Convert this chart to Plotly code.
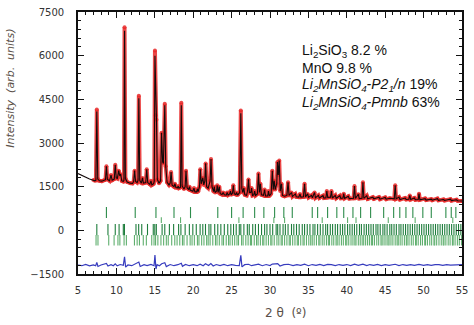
import plotly.graph_objects as go

# ---------------- data ----------------
# observed profile vertices (2theta in degrees, intensity in arb. units)
two_theta = [
    7.0, 7.2, 7.33, 7.45, 7.57, 7.8, 8.1, 8.4,
    8.58, 8.7, 8.82, 9.1, 9.3, 9.45, 9.72, 9.85, 9.98, 10.12, 10.3, 10.42, 10.55, 10.7, 10.9,
    10.98, 11.06, 11.17, 11.4, 11.8, 12.1,
    12.25, 12.37, 12.5, 12.7, 12.82, 12.92, 13.04, 13.25, 13.4, 13.52, 13.82, 13.95, 14.08, 14.35, 14.5, 14.62, 14.85,
    14.93, 15.02, 15.12, 15.22, 15.33, 15.55, 15.75, 15.88, 16.02, 16.12, 16.3, 16.42, 16.6, 16.85, 17.0, 17.12,
    17.25, 17.5, 17.62, 17.75, 17.95, 18.05, 18.15, 18.35,
    18.45, 18.56, 18.8, 18.95, 19.06, 19.2, 19.42, 19.52, 19.62, 19.95, 20.1, 20.22, 20.45, 20.55, 20.65,
    20.82, 20.92, 21.05, 21.25, 21.38, 21.52, 21.62, 21.75, 21.95, 22.2, 22.32, 22.45, 22.65, 22.75, 22.85,
    23.05, 23.12, 23.25, 23.4, 23.52, 23.75, 23.9, 24.05, 24.3, 24.42, 24.55, 24.75, 24.85, 24.95, 25.12,
    25.22, 25.35, 25.55, 25.65, 25.78, 26.05,
    26.2, 26.33, 26.45, 26.6, 26.72, 26.95, 27.1, 27.2, 27.32, 27.5, 27.6, 27.72, 27.9, 28.0, 28.12, 28.35,
    28.5, 28.62, 28.75, 28.88, 29.15, 29.3, 29.42, 29.7, 29.8, 29.92, 30.15, 30.3, 30.42, 30.55, 30.68,
    30.88, 30.97, 31.08, 31.2, 31.33, 31.5, 31.62, 31.9, 32.2, 32.35, 32.48, 32.8, 32.92, 33.3, 33.42,
    33.75, 33.9, 34.02, 34.35,
    34.5, 34.62, 34.9, 35.02, 35.4, 35.52, 35.8, 35.92, 36.3, 36.42, 36.9, 37.02, 37.28, 37.4, 37.52,
    37.88, 38.0, 38.12, 38.5, 38.62, 39.1, 39.22, 39.5, 39.6, 39.72, 40.2, 40.32, 40.88, 41.0, 41.12,
    41.5, 41.62, 41.98, 42.1, 42.22, 42.6, 42.72, 43.4, 43.52, 44.2, 44.32, 45.0, 45.12, 45.6, 46.18,
    46.3, 46.42, 46.8, 46.92, 47.6, 47.72, 48.08, 48.2, 48.32, 48.8, 48.92, 49.3, 49.4, 49.52, 50.2,
    50.32, 51.0, 51.12, 51.8, 51.92, 52.6, 52.72, 53.5, 53.62, 54.3, 54.42, 55.0,
]
intensity_obs = [
    1730, 1700, 1720, 4150, 1760, 1700, 1690, 1720,
    1740, 2200, 1760, 1700, 1900, 1720, 1760, 2250, 1800, 1780, 2050, 1880, 1930, 1700, 1680,
    1720, 6980, 1780, 1660, 1620, 1610,
    1680, 2050, 1680, 1640, 1720, 4620, 1720, 1620, 1800, 1620, 1640, 2100, 1640, 1580, 1700, 1560, 1600,
    1700, 6180, 3950, 3800, 1750, 1620, 1700, 3350, 2350, 2300, 4350, 2200, 1650, 1560, 1620, 2000,
    1550, 1500, 1600, 1470, 1460, 1520, 1450, 1480,
    4380, 1520, 1420, 1500, 2050, 1460, 1400, 1500, 1380, 1340, 1450, 1320, 1320, 1420, 1330,
    1500, 2100, 1600, 1800, 1560, 1700, 2300, 1500, 1450, 1700, 2450, 1500, 1330, 1500, 1300,
    1350, 1550, 1300, 1500, 1260, 1230, 1300, 1220, 1210, 1300, 1210, 1250, 1350, 1220, 1280,
    1550, 1250, 1230, 1300, 1210, 1300,
    4120, 1450, 1300, 1450, 1220, 1200, 1400, 1750, 1300, 1300, 1450, 1200, 1220, 1350, 1200, 1250,
    1950, 1300, 1600, 1220, 1200, 1400, 1180, 1180, 1350, 1180, 1260, 2050, 1400, 1700, 1400,
    1600, 2350, 1900, 2400, 1350, 1600, 1200, 1170, 1200, 1650, 1200, 1300, 1160, 1250, 1150,
    1140, 1250, 1140, 1150,
    1600, 1150, 1250, 1130, 1200, 1120, 1300, 1120, 1200, 1110, 1190, 1110, 1120, 1350, 1130,
    1140, 1350, 1110, 1200, 1100, 1190, 1100, 1110, 1260, 1100, 1170, 1090, 1100, 1520, 1100,
    1240, 1090, 1100, 1650, 1100, 1190, 1080, 1140, 1080, 1140, 1070, 1130, 1070, 1100, 1080,
    1550, 1080, 1140, 1060, 1110, 1060, 1070, 1200, 1060, 1110, 1050, 1060, 1260, 1050, 1090,
    1040, 1070, 1035, 1090, 1030, 1060, 1025, 1070, 1020, 1050, 1015, 1010,
]

# calculated profile: follows the observed one except at the strongest reflections
calc_top_theta = [7.45, 11.06, 12.92, 15.02, 16.3, 18.45, 26.2]
calc_top_value = [4080, 6860, 4540, 6000, 4300, 4300, 4020]
# calculated background below the first measured point
calc_lead_theta = [5.0, 5.5, 6.0, 6.5, 6.8]
calc_lead_value = [1950, 1880, 1810, 1760, 1740]

# difference curve (obs - calc, shifted)
diff_theta = [
    5.0, 5.5, 6.0, 6.5, 7.0, 7.3, 7.45, 7.6, 8.0, 8.5, 8.7, 8.9, 9.3, 9.6, 9.85, 10.1, 10.5,
    10.9, 11.06, 11.2, 11.5, 12.0, 12.4, 12.92, 13.1, 13.6, 14.0, 14.5, 14.9, 15.02, 15.15,
    15.3, 15.6, 15.9, 16.3, 16.5, 17.0, 17.5, 18.0, 18.45, 18.6, 19.0, 19.5, 20.0, 20.5,
    20.9, 21.3, 21.6, 22.0, 22.3, 22.6, 23.0, 23.5, 24.0, 24.5, 25.0, 25.5, 26.0, 26.2,
    26.35, 26.7, 27.2, 27.6, 28.0, 28.5, 29.0, 29.5, 30.0, 30.3, 31.0, 31.3, 31.8, 32.4,
    33.0, 33.5, 34.0, 34.5, 35.0, 35.5, 36.0, 36.5, 37.0, 37.5, 38.0, 38.5, 39.0, 39.5,
    40.0, 40.5, 41.0, 41.5, 42.1, 42.6, 43.0, 43.5, 44.0, 44.5, 45.0, 45.5, 46.3, 46.8,
    47.3, 47.8, 48.3, 48.8, 49.4, 50.0, 50.5, 51.0, 51.5, 52.0, 52.5, 53.0, 53.5, 54.0,
    54.5, 55.0,
]
diff_value = [
    -1190, -1215, -1170, -1220, -1185, -1215, -1100, -1240, -1190, -1170, -1140, -1225, -1180, -1215, -1150, -1220, -1175,
    -1200, -910, -1265, -1190, -1215, -1170, -1090, -1240, -1180, -1210, -1170, -1215, -850, -1330,
    -1180, -1215, -1150, -1110, -1245, -1175, -1215, -1180, -1130, -1235, -1170, -1215, -1180, -1215,
    -1160, -1215, -1150, -1210, -1140, -1225, -1175, -1210, -1170, -1215, -1180, -1205, -1215, -860,
    -1255, -1180, -1165, -1215, -1180, -1160, -1215, -1175, -1210, -1160, -1145, -1225, -1180, -1165,
    -1210, -1180, -1200, -1165, -1215, -1175, -1205, -1170, -1210, -1170, -1180, -1210, -1175, -1205,
    -1175, -1210, -1160, -1200, -1160, -1210, -1175, -1205, -1170, -1210, -1180, -1200, -1165, -1210,
    -1175, -1205, -1175, -1200, -1170, -1205, -1175, -1200, -1180, -1175, -1200, -1175, -1195, -1180,
    -1190, -1175,
]

# Bragg reflection positions for each phase
bragg_li2sio3 = [
    8.7, 12.45, 15.15, 17.5, 19.65, 23.2, 25.0, 26.5, 28.0, 29.2, 30.6, 31.8, 32.9, 35.5, 36.2,
    37.5, 38.7, 39.6, 40.8, 41.8, 43.1, 44.8, 46.1, 46.9, 47.7, 48.6, 49.9, 51.0, 52.9, 53.6, 54.2,
]
bragg_mno = [15.85, 18.35, 25.95, 30.5, 31.9, 36.8, 40.1, 41.2, 45.4, 48.9, 53.8]
bragg_pmnb = [
    7.45, 8.9, 9.85, 10.35, 10.9, 11.05, 12.55, 12.9, 13.3, 14.05, 14.8, 15.0, 15.2, 15.95, 16.3,
    16.9, 17.45, 18.1, 18.4, 18.95, 19.5, 19.95, 20.4, 20.9, 21.25, 21.6, 22.05, 22.3, 22.8, 23.2,
    23.6, 24.05, 24.5, 24.9, 25.25, 25.6, 26.0, 26.2, 26.6, 27.05, 27.3, 27.75, 28.1, 28.5, 28.9,
    29.3, 29.6, 30.0, 30.35, 30.8, 31.0, 31.3, 31.7, 32.0, 32.35, 32.8, 33.1, 33.45, 33.8, 34.2,
    34.5, 34.85, 35.2, 35.6, 35.85, 36.2, 36.55, 36.9, 37.25, 37.5, 37.85, 38.15, 38.5, 38.8, 39.15,
    39.45, 39.75, 40.1, 40.4, 40.7, 41.0, 41.3, 41.65, 41.9, 42.25, 42.55, 42.85, 43.15, 43.45, 43.8,
    44.05, 44.35, 44.7, 44.95, 45.25, 45.6, 45.85, 46.15, 46.45, 46.8, 47.05, 47.35, 47.65, 47.95,
    48.25, 48.55, 48.85, 49.15, 49.45, 49.75, 50.05, 50.35, 50.65, 50.95, 51.25, 51.55, 51.85,
    52.15, 52.45, 52.75, 53.05, 53.35, 53.65, 53.95, 54.25, 54.55, 54.85,
]
bragg_p21n = [
    7.35, 7.6, 9.0, 9.7, 10.2, 10.45, 11.0, 11.3, 12.35, 12.7, 13.0, 13.5, 13.9, 14.6, 14.9, 15.1,
    15.4, 15.8, 16.15, 16.5, 16.75, 17.2, 17.6, 17.9, 18.25, 18.6, 18.8, 19.2, 19.6, 19.85, 20.15,
    20.55, 20.75, 21.1, 21.4, 21.75, 21.95, 22.2, 22.55, 22.9, 23.1, 23.4, 23.75, 23.95, 24.3, 24.6,
    24.8, 25.1, 25.4, 25.7, 25.9, 26.3, 26.5, 26.85, 27.15, 27.45, 27.6, 27.95, 28.25, 28.45, 28.75,
    29.05, 29.2, 29.5, 29.8, 30.1, 30.25, 30.55, 30.9, 31.15, 31.45, 31.6, 31.9, 32.2, 32.5, 32.65,
    32.95, 33.25, 33.55, 33.7, 34.0, 34.3, 34.45, 34.75, 35.05, 35.3, 35.5, 35.75, 36.05, 36.35,
    36.5, 36.8, 37.05, 37.35, 37.6, 37.75, 38.05, 38.3, 38.6, 38.75, 39.0, 39.3, 39.55, 39.85, 40.0,
    40.25, 40.55, 40.8, 41.05, 41.2, 41.5, 41.75, 42.0, 42.2, 42.45, 42.7, 42.95, 43.2, 43.35, 43.6,
    43.9, 44.15, 44.45, 44.6, 44.85, 45.1, 45.35, 45.5, 45.75, 46.0, 46.3, 46.55, 46.7, 46.95, 47.2,
    47.5, 47.75, 47.85, 48.1, 48.4, 48.65, 48.95, 49.05, 49.3, 49.6, 49.85, 50.15, 50.25, 50.5, 50.8,
    51.05, 51.35, 51.45, 51.7, 52.0, 52.3, 52.55, 52.65, 52.9, 53.2, 53.45, 53.75, 53.85, 54.1, 54.4,
    54.65, 54.95,
]
# vertical extent (intensity units) of each tick row
bragg_rows = [
    (bragg_li2sio3, 420, 800, "rgb(45,140,75)"),
    (bragg_mno, 250, 450, "rgb(95,175,110)"),
    (bragg_pmnb, -170, 220, "rgb(30,125,60)"),
    (bragg_p21n, -520, -160, "rgb(95,175,110)"),
]

phase_labels = [
    "Li<sub>2</sub>SiO<sub>3</sub> 8.2 %",
    "MnO 9.8 %",
    "<i>Li<sub>2</sub>MnSiO<sub>4</sub>-P2<sub>1</sub>/n</i> 19%",
    "<i>Li<sub>2</sub>MnSiO<sub>4</sub>-Pmnb</i> 63%",
]

# ---------------- build calc profile ----------------
intensity_calc = list(intensity_obs)
for t, v in zip(calc_top_theta, calc_top_value):
    intensity_calc[two_theta.index(t)] = v
calc_theta = calc_lead_theta + two_theta
calc_value = calc_lead_value + intensity_calc

fig = go.Figure()

# Bragg ticks
for positions, lo, hi, color in bragg_rows:
    xs, ys = [], []
    for p in positions:
        xs += [p, p, None]
        ys += [lo, hi, None]
    fig.add_trace(go.Scatter(x=xs, y=ys, mode="lines",
                             line=dict(color=color, width=1.1), hoverinfo="skip"))

# difference
fig.add_trace(go.Scatter(x=diff_theta, y=diff_value, mode="lines",
                         line=dict(color="rgb(55,60,190)", width=1.2)))

# observed
fig.add_trace(go.Scatter(x=two_theta, y=intensity_obs, mode="lines+markers",
                         line=dict(color="rgba(232,40,40,0.85)", width=4),
                         marker=dict(color="rgba(232,40,40,0.85)", size=4)))

# calculated
fig.add_trace(go.Scatter(x=calc_theta, y=calc_value, mode="lines",
                         line=dict(color="rgb(20,10,10)", width=1.1)))

tick_font = dict(family="DejaVu Sans, Verdana, sans-serif", size=10, color="#333")
axis_common = dict(
    showline=True, linecolor="#111", linewidth=1.6, mirror="allticks",
    ticks="inside", ticklen=6, tickwidth=1.4, tickcolor="#111",
    showgrid=False, zeroline=False, tickfont=tick_font,
)

fig.update_xaxes(range=[5, 55], tick0=5, dtick=5,
                 minor=dict(dtick=1, ticks="inside", ticklen=3, tickwidth=1, tickcolor="#111"),
                 ticklabelstandoff=6, **axis_common)
fig.update_yaxes(range=[-1500, 7500], tick0=0, dtick=1500,
                 minor=dict(dtick=300, ticks="inside", ticklen=3, tickwidth=1, tickcolor="#111"),
                 ticklabelstandoff=10, **axis_common)

annotations = []
label_y = [0.852, 0.788, 0.721, 0.653]
for text, yy in zip(phase_labels, label_y):
    annotations.append(dict(text=text, x=0.577, y=yy, xref="paper", yref="paper",
                            xanchor="left", yanchor="middle", showarrow=False,
                            font=dict(family="Liberation Sans, Arial, sans-serif", size=14, color="#111")))
annotations.append(dict(text="Intensity  (arb.  units)", x=-0.175, y=0.71, xref="paper", yref="paper",
                        textangle=-90, showarrow=False, xanchor="center", yanchor="middle",
                        font=dict(family="DejaVu Sans, sans-serif", size=11, color="#5a5048",
                                  style="italic")))
annotations.append(dict(text="2 θ  (º)", x=0.54, y=-0.148, xref="paper", yref="paper",
                        showarrow=False, xanchor="center", yanchor="middle",
                        font=dict(family="DejaVu Sans, sans-serif", size=12, color="#5a5048")))

fig.update_layout(
    width=474, height=325,
    margin=dict(l=78, r=7, t=6, b=51),
    paper_bgcolor="white", plot_bgcolor="white",
    showlegend=False,
    annotations=annotations,
)

fig.write_html("out.html")
